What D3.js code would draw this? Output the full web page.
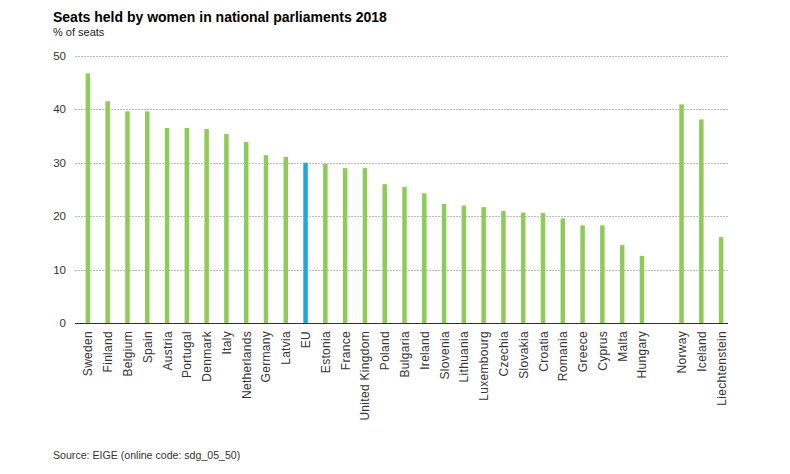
<!DOCTYPE html>
<html><head><meta charset="utf-8">
<script src="https://cdn.jsdelivr.net/npm/d3@7"></script>
<style>body{margin:0;background:#fff}svg{display:block;font-family:"Liberation Sans",Arial,sans-serif}</style>
</head><body><div id="chart"></div>
<script>
const countries = ["Sweden","Finland","Belgium","Spain","Austria","Portugal","Denmark","Italy","Netherlands","Germany","Latvia","EU","Estonia","France","United Kingdom","Poland","Bulgaria","Ireland","Slovenia","Lithuania","Luxembourg","Czechia","Slovakia","Croatia","Romania","Greece","Cyprus","Malta","Hungary","","Norway","Iceland","Liechtenstein"];
const values = [46.7,41.5,39.6,39.6,36.5,36.5,36.3,35.4,33.9,31.4,31.1,30.0,29.8,29.0,29.0,26.0,25.5,24.3,22.3,22.0,21.7,21.0,20.7,20.6,19.6,18.3,18.3,14.6,12.6,null,40.9,38.1,16.1];
const yTicks = [0,10,20,30,40,50];
const title = "Seats held by women in national parliaments 2018";
const subtitle = "% of seats";
const source = "Source: EIGE (online code: sdg_05_50)";

const W = 790, H = 474;
const svg = d3.select("#chart").append("svg").attr("width", W).attr("height", H);
const slots = countries.map((c, i) => c === "" ? "__gap" + i : c);
const x = d3.scaleBand().domain(slots).range([78, 731]).paddingInner(0).paddingOuter(0);
const y = d3.scaleLinear().domain([0, 50]).range([323.3, 55.7]);

svg.append("text").attr("x", 53).attr("y", 22).attr("font-size", 14).attr("font-weight", "bold").attr("fill", "#000").text(title);
svg.append("text").attr("x", 53).attr("y", 36).attr("font-size", 11).attr("fill", "#222").text(subtitle);

// gridlines
svg.append("g").selectAll("line").data(yTicks.filter(d => d > 0)).join("line")
  .attr("x1", 75).attr("x2", 728).attr("y1", d => Math.round(y(d)) + 0.5).attr("y2", d => Math.round(y(d)) + 0.5)
  .attr("stroke", "#aaa").attr("stroke-width", 0.8).attr("stroke-dasharray", "2,1");

// y tick labels
svg.append("g").selectAll("text").data(yTicks).join("text")
  .attr("x", 66).attr("y", d => y(d) + 4).attr("text-anchor", "end").attr("font-size", 11.5).attr("fill", "#333").text(d => d);

// bars
const bw = 4.5;
svg.append("g").selectAll("rect").data(countries.map((c, i) => ({c, v: values[i], s: slots[i]})).filter(d => d.v != null)).join("rect")
  .attr("x", d => x(d.s) + x.bandwidth() / 2 - bw / 2).attr("width", bw)
  .attr("y", d => y(d.v)).attr("height", d => y(0) - y(d.v))
  .attr("fill", d => d.c === "EU" ? "#1fa8e0" : "#8fcb58");

// axis line
svg.append("line").attr("x1", 75).attr("x2", 728).attr("y1", 323.5).attr("y2", 323.5).attr("stroke", "#333").attr("stroke-width", 1.2);

// x labels
svg.append("g").selectAll("text").data(countries.map((c, i) => ({c, s: slots[i]})).filter(d => d.c !== "")).join("text")
  .attr("transform", d => `translate(${x(d.s) + x.bandwidth() / 2 + 4.5},331) rotate(-90)`)
  .attr("text-anchor", "end").attr("font-size", 12).attr("letter-spacing", 0.3).attr("fill", "#333").text(d => d.c);

svg.append("text").attr("x", 53).attr("y", 459).attr("font-size", 10.6).attr("fill", "#333").text(source);
</script></body></html>
